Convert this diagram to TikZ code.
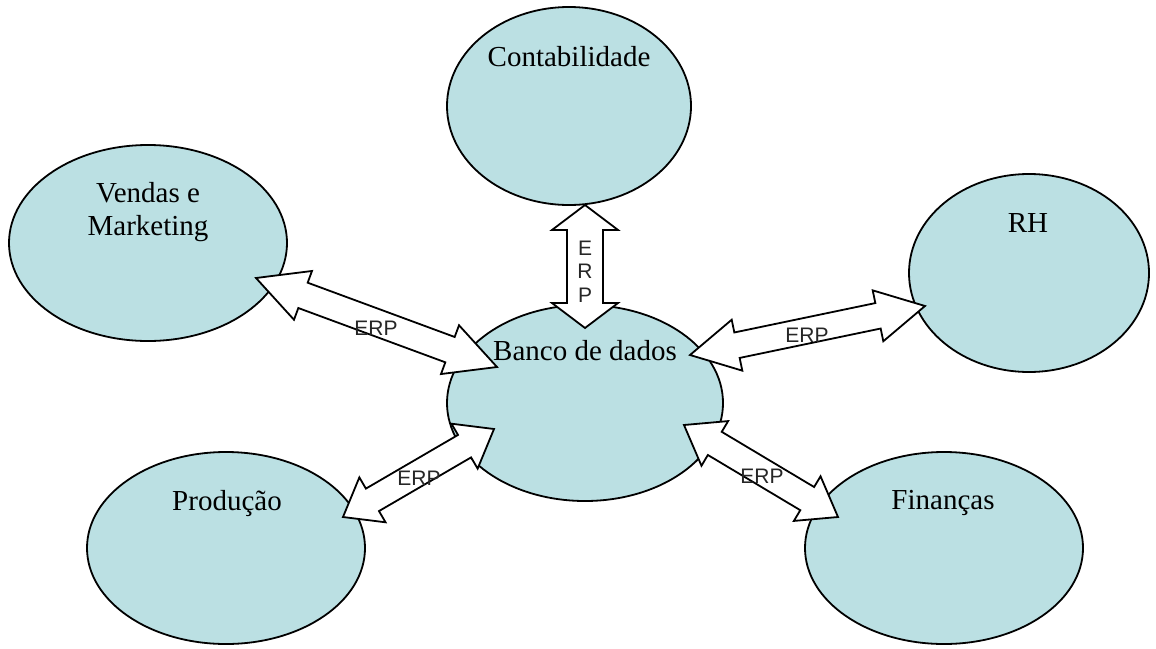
\documentclass[tikz,border=0pt]{standalone}
\usepackage{fontspec}
\setmainfont{Liberation Serif}
\newfontfamily\erpfont{Liberation Sans}
\usetikzlibrary{calc,shapes.geometric}
\definecolor{bubble}{RGB}{187,224,227}
% double-headed block arrow: #1 start, #2 end, #3 shaft half width, #4 head half width, #5 head fraction
\newcommand\dblarrow[5]{%
  \path[blockarrow] (#1)
   -- ($(#1)!#5!(#2)!#4!90:(#2)$)
   -- ($(#1)!#5!(#2)!#3!90:(#2)$)
   -- ($(#1)!{1-#5}!(#2)!#3!90:(#2)$)
   -- ($(#1)!{1-#5}!(#2)!#4!90:(#2)$)
   -- (#2)
   -- ($(#1)!{1-#5}!(#2)!#4!-90:(#2)$)
   -- ($(#1)!{1-#5}!(#2)!#3!-90:(#2)$)
   -- ($(#1)!#5!(#2)!#3!-90:(#2)$)
   -- ($(#1)!#5!(#2)!#4!-90:(#2)$)
   -- cycle;}
\begin{document}
\begin{tikzpicture}[x=1pt,y=-1pt,
  bubblenode/.style={ellipse, draw=black, line width=1.8pt, fill=bubble, inner sep=0pt},
  blockarrow/.style={draw=black, fill=white, line width=1.8pt, line join=miter},
  lbl/.style={font=\fontsize{29}{33}\selectfont, anchor=base, inner sep=0pt},
  erp/.style={font=\erpfont\fontsize{21}{24}\selectfont, anchor=base, inner sep=0pt, text=black!85}]
\useasboundingbox (0,0) rectangle (1156,648);
% ellipses
\node[bubblenode, minimum width=244pt, minimum height=198pt] (cont) at (569,106) {};
\node[bubblenode, minimum width=278pt, minimum height=196pt] (vend) at (148,243) {};
\node[bubblenode, minimum width=240pt, minimum height=198pt] (rh) at (1029,273) {};
\node[bubblenode, minimum width=276pt, minimum height=196pt] (banco) at (585,403) {};
\node[bubblenode, minimum width=278pt, minimum height=192pt] (prod) at (226,548) {};
\node[bubblenode, minimum width=278pt, minimum height=192pt] (fin) at (944,548) {};
% arrow end points on the ellipses
\coordinate (cont-b) at (585,205);
\coordinate (banco-t) at (585,328);
\coordinate (vend-e) at (256,278);
\coordinate (banco-w) at (497,367);
\coordinate (banco-e) at (690,355);
\coordinate (rh-w) at (925,306);
\coordinate (prod-e) at (343,517);
\coordinate (banco-sw) at (494,429);
\coordinate (banco-se) at (684,425);
\coordinate (fin-w) at (838,517);
% arrows
\dblarrow{cont-b}{banco-t}{18pt}{33pt}{0.203}
\dblarrow{vend-e}{banco-w}{13.5pt}{26pt}{0.195}
\dblarrow{banco-e}{rh-w}{13pt}{26pt}{0.2}
\dblarrow{prod-e}{banco-sw}{13pt}{26pt}{0.195}
\dblarrow{banco-se}{fin-w}{13.5pt}{26pt}{0.2}
% ERP labels
\node[erp] (erp-e) at (585,255) {E};
\node[erp] (erp-r) at (585,278) {R};
\node[erp] (erp-p) at (585,302) {P};
\node[erp] (erp1) at (376,335) {ERP};
\node[erp] (erp2) at (807,342) {ERP};
\node[erp] (erp3) at (419,485) {ERP};
\node[erp] (erp4) at (762,483) {ERP};
% texts
\node[lbl] (t-cont) at (569,66) {Contabilidade};
\node[lbl] (t-vend1) at (148,202) {Vendas e};
\node[lbl] (t-vend2) at (148,235) {Marketing};
\node[lbl] (t-rh) at (1028,232) {RH};
\node[lbl] (t-banco) at (585,360) {Banco de dados};
\node[lbl] (t-prod) at (227,510) {Produção};
\node[lbl] (t-fin) at (943,509) {Finanças};
\end{tikzpicture}
\end{document}
